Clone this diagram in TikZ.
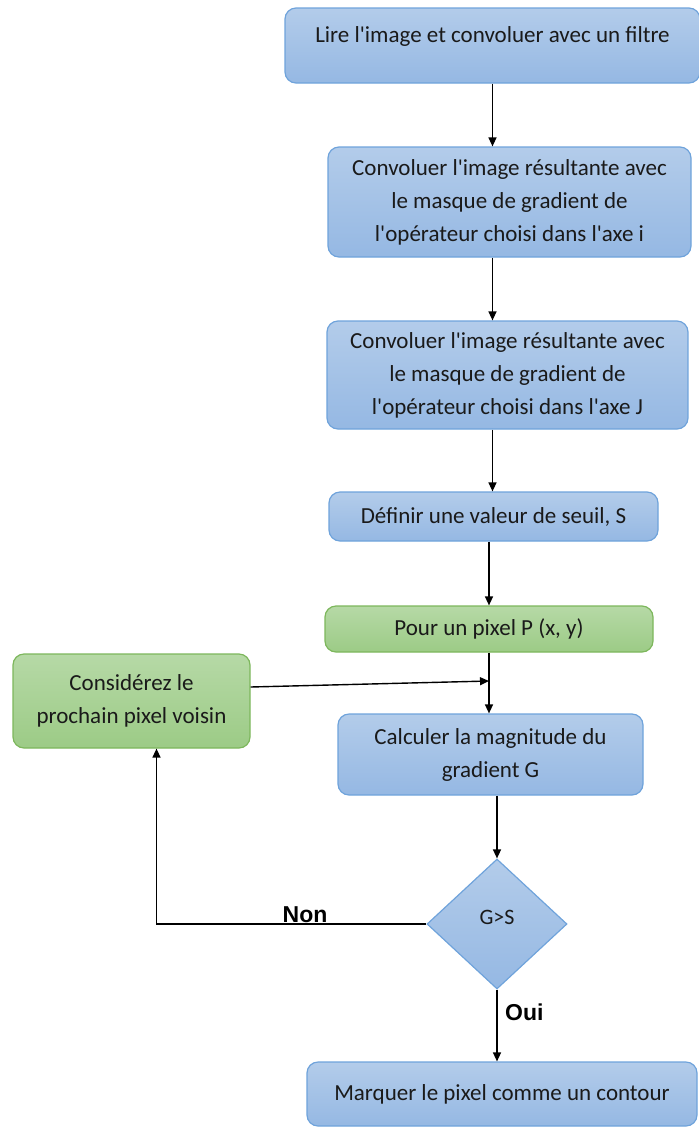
\documentclass[tikz,border=0pt]{standalone}
\usepackage{fontspec}
\setmainfont{Carlito}[Ligatures=TeXOff]
\newfontfamily\etiquette{Liberation Sans}
\usetikzlibrary{arrows.meta,shapes.geometric}
\definecolor{bleuhaut}{HTML}{B3CCEA}
\definecolor{bleubas}{HTML}{95B8E3}
\definecolor{bleubord}{HTML}{6FA3DB}
\definecolor{verthaut}{HTML}{B6D9A6}
\definecolor{vertbas}{HTML}{9CCB86}
\definecolor{vertbord}{HTML}{7DB75C}
\definecolor{texte}{HTML}{1A1A1A}

\begin{document}
\begin{tikzpicture}[x=1pt,y=-1pt,
  bleu/.style={draw=bleubord,line width=1.2pt,rounded corners=11pt,top color=bleuhaut,bottom color=bleubas,
    align=center,inner sep=0pt,text=texte,font=\fontsize{23}{33}\selectfont},
  vert/.style={bleu,draw=vertbord,top color=verthaut,bottom color=vertbas},
  losange/.style={bleu,diamond,rounded corners=0pt,font=\fontsize{22}{26}\selectfont},
  fleche/.style={-{Triangle[length=9pt,width=8pt]},line width=1.4pt},
  oui-non/.style={font=\etiquette\bfseries\fontsize{23}{26}\selectfont,inner sep=0pt}]
  \useasboundingbox (0,0) rectangle (699,1128);
  \node[bleu,minimum width=415pt,minimum height=75pt,text depth=21pt] (lire) at (492.5,45.5) {Lire l'image et convoluer avec un filtre};
  \node[bleu,minimum width=363pt,minimum height=110pt] (conv1) at (509.5,202) {Convoluer l'image résultante avec\\le masque de gradient de\\l'opérateur choisi dans l'axe i};
  \node[bleu,minimum width=361pt,minimum height=108pt] (conv2) at (507.5,375) {Convoluer l'image résultante avec\\le masque de gradient de\\l'opérateur choisi dans l'axe J};
  \node[bleu,minimum width=329pt,minimum height=49pt] (seuil) at (493.5,516.5) {Définir une valeur de seuil, S};
  \node[vert,minimum width=328pt,minimum height=46pt] (pixel) at (489,629) {Pour un pixel P (x, y)};
  \node[vert,minimum width=237pt,minimum height=94pt] (voisin) at (131.5,701) {Considérez le\\prochain pixel voisin};
  \node[bleu,minimum width=305pt,minimum height=81pt] (calcul) at (490.5,754.5) {Calculer la magnitude du\\gradient G};
  \node[losange,minimum width=140pt,minimum height=130pt,text depth=14pt] (test) at (497,924) {G>S};
  \node[bleu,minimum width=390pt,minimum height=64pt] (contour) at (502,1094) {Marquer le pixel comme un contour};
  \coordinate (jonction) at (pixel.south |- 0,681);
  \draw[fleche] (lire.south) -- (lire.south |- conv1.north);
  \draw[fleche] (conv1.south -| lire.south) -- (conv2.north -| lire.south);
  \draw[fleche] (conv2.south -| lire.south) -- (seuil.north -| lire.south);
  \draw[fleche] (seuil.south -| pixel.north) -- (pixel.north);
  \draw[fleche] (pixel.south) -- (calcul.north -| pixel.south);
  \draw[fleche] ([yshift=14pt]voisin.east) -- (jonction);
  \draw[fleche] (calcul.south -| test.north) -- (test.north);
  \draw[fleche] (test.south) -- (contour.north -| test.south);
  \draw[fleche] (test.west) -| ([xshift=25pt]voisin.south);
  \node[oui-non,anchor=south] (non) at (305,923) {Non};
  \node[oui-non,anchor=west] (oui) at (505,1012) {Oui};
\end{tikzpicture}
\end{document}
